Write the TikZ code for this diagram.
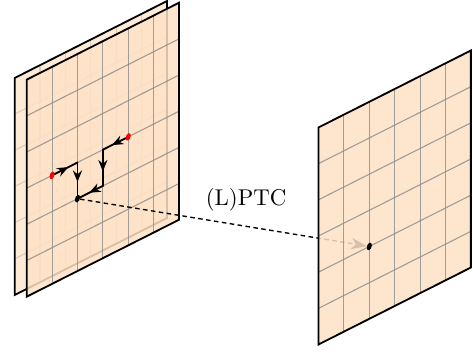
\documentclass[tikz,border=0pt]{standalone}
\usepackage{amsmath,amssymb}
\usetikzlibrary{arrows.meta,positioning,calc,decorations.markings}
\definecolor{planefill}{HTML}{FEE2C6}
\definecolor{gridgray}{HTML}{8C8C8C}
\tikzset{
  planeat/.style={cm={0.391,0.1975,0,0.557,(#1)}},
  planeface/.style={fill=planefill,fill opacity=#1},
  planeedge/.style={draw=black,thick,line join=miter},
  gridline/.style={draw=gridgray,opacity=#1,line width=0.5pt},
  dotnode/.style={circle,fill=#1,inner sep=0pt,minimum size=0.2cm,transform shape},
  dotnode/.default=black,
  pathline/.style={thick,line cap=round,postaction={decorate},
    decoration={markings,mark=at position 0.6 with {\arrow{Stealth[length=5pt,width=4pt]}}}},
  ptcline/.style={dash pattern=on 2pt off 1.5pt,semithick,shorten >=1pt,-{Stealth[length=7pt,width=5pt,inset=2pt]}}
}
% #1 fill opacity, #2 grid opacity
\newcommand{\gridplane}[2]{%
  \path[planeface=#1] (0,0) rectangle (6,6);
  \foreach \k in {1,...,5} {
    \draw[gridline=#2] (\k,0) -- (\k,6);
    \draw[gridline=#2] (0,\k) -- (6,\k);
  }
  \draw[planeedge] (0,0) rectangle (6,6);
}
\begin{document}
\begin{tikzpicture}
  \useasboundingbox (0,0) rectangle (7.284,5.436);
  \begin{scope}[planeat={0.226,0.893}] % back plane
    \gridplane{0.7}{0.3}
  \end{scope}
  \begin{scope}[planeat={0.411,0.867}] % front plane
    \gridplane{0.85}{0.8}
    \node[dotnode=red] (redL) at (1,3) {}; % left end
    \node[dotnode=red] (redR) at (4,3) {}; % right end
    \node[dotnode] (dotL) at (2,2) {}; % common end point
    \coordinate (bendL) at (2,3);
    \coordinate (bendR) at (3,3);
    \coordinate (bendM) at (3,2);
  \end{scope}
  \foreach \a/\b in {redL/bendL,bendL/dotL,redR/bendR,bendR/bendM,bendM/dotL}
    \draw[pathline] (\a) -- (\b);
  \begin{scope}[planeat={4.905,0.131}] % only the end of the dashed line
    \coordinate (targetR) at (2,2);
  \end{scope}
  \draw[ptcline] (dotL) -- (targetR);
  \begin{scope}[planeat={4.905,0.131}] % right plane, on top of the dashed line
    \gridplane{0.85}{0.8}
    \node[dotnode] (dotR) at (2,2) {};
  \end{scope}
  \node (ptc) at (3.79,2.36) {(L)PTC};
\end{tikzpicture}
\end{document}
